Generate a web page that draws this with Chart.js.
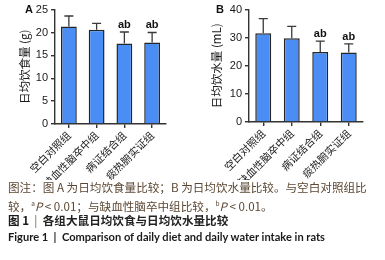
<!DOCTYPE html>
<html><head><meta charset="utf-8">
<script src="https://cdn.jsdelivr.net/npm/chart.js@4/dist/chart.umd.min.js"></script>
<style>
html,body{margin:0;padding:0;background:#fff;width:385px;height:260px;overflow:hidden;position:relative}
canvas{position:absolute;top:0}
.t{position:absolute;left:8px;white-space:nowrap;font-family:"Noto Sans CJK SC",sans-serif;font-size:11.6px;line-height:15px}
.lab{position:absolute;font-family:"Liberation Sans",Arial,sans-serif;font-weight:bold;font-size:11px;color:#111}
</style></head><body>
<canvas id="a" width="190" height="180" style="left:0"></canvas>
<canvas id="b" width="195" height="180" style="left:190px"></canvas>
<div class="lab" style="left:25px;top:3px">A</div>
<div class="lab" style="left:216px;top:3px">B</div>
<div class="t" style="top:180px;color:#5a4632">图注：图 A 为日均饮食量比较；B 为日均饮水量比较。与空白对照组比</div>
<div class="t" style="top:196px;color:#5a4632">较，<sup style="font-size:6.5px">a</sup><i>P</i> &lt; 0.01；与缺血性脑卒中组比较，<sup style="font-size:6.5px">b</sup><i>P</i> &lt; 0.01。</div>
<div class="t" style="top:213px;color:#1a1a1a;font-weight:bold">图 1 &nbsp;<span style="color:#7a5a3a;font-weight:normal">|</span>&nbsp; <span style="color:#222">各组大鼠日均饮食与日均饮水量比较</span></div>
<div class="t" style="top:229px;color:#1a1a1a;font-family:Lato,sans-serif;font-weight:bold;font-size:11.1px">Figure 1 &nbsp;|&nbsp; Comparison of daily diet and daily water intake in rats</div>
<script>
const categories = ['空白对照组','缺血性脑卒中组','病证结合组','痰热腑实证组'];
const dietMean = [21.3, 20.6, 17.6, 17.8];
const dietErr = [2.3, 1.4, 2.5, 2.2];
const waterMean = [31.6, 29.8, 24.9, 24.7];
const waterErr = [5.2, 4.2, 3.9, 3.1];
const sigLabels = ['', '', 'ab', 'ab'];
const dietTicks = [0, 5, 10, 15, 20, 25];
const waterTicks = [0, 10, 20, 30, 40];

const errPlugin = {
  id: 'errbars',
  afterDatasetsDraw(chart, args, opts) {
    const ctx = chart.ctx;
    const meta = chart.getDatasetMeta(0);
    const ys = chart.scales.y;
    ctx.save();
    ctx.strokeStyle = '#3a3a3a';
    ctx.lineWidth = 1.3;
    meta.data.forEach((bar, i) => {
      const m = opts.means[i], e = opts.errs[i];
      const yt = ys.getPixelForValue(m + e);
      const yb = ys.getPixelForValue(m);
      ctx.beginPath();
      ctx.moveTo(bar.x, yb); ctx.lineTo(bar.x, yt);
      ctx.moveTo(bar.x - 4.5, yt); ctx.lineTo(bar.x + 4.5, yt);
      ctx.stroke();
      if (opts.sig[i]) {
        ctx.fillStyle = '#111';
        ctx.font = 'bold 11px "Liberation Sans", Arial, sans-serif';
        ctx.textAlign = 'center';
        ctx.textBaseline = 'alphabetic';
        ctx.fillText(opts.sig[i], bar.x, yt - 4);
      }
    });
    ctx.restore();
  }
};

function makeChart(id, means, errs, ticks, title, pad, yWidth, xHeight, pct) {
  return new Chart(document.getElementById(id), {
    type: 'bar',
    data: { labels: categories, datasets: [{ data: means, backgroundColor: '#4a8ef5', borderColor: '#262626', borderWidth: 1.5, barPercentage: pct, categoryPercentage: 1 }] },
    plugins: [errPlugin],
    options: {
      responsive: false, animation: false,
      layout: { padding: pad },
      plugins: { legend: { display: false }, tooltip: { enabled: false },
        errbars: { means: means, errs: errs, sig: sigLabels } },
      scales: {
        y: {
          min: ticks[0], max: ticks[ticks.length - 1],
          afterBuildTicks: s => { s.ticks = ticks.map(v => ({ value: v })); },
          afterFit: s => { s.width = yWidth; },
          ticks: { font: { family: '"Liberation Sans", Arial, sans-serif', size: 11 }, color: '#1a1a1a', padding: 3 },
          grid: { drawOnChartArea: false, tickLength: 4, color: '#333', lineWidth: 1.4 },
          border: { color: '#333', width: 1.4 },
          title: { display: true, text: title, color: '#1a1a1a', font: { family: '"Noto Sans CJK SC", sans-serif', size: 11.5 }, padding: 0 }
        },
        x: {
          afterFit: s => { s.height = xHeight; },
          ticks: { minRotation: 45, maxRotation: 45, autoSkip: false, font: { family: '"Noto Sans CJK SC", sans-serif', size: 10.5 }, color: '#1a1a1a', padding: 1 },
          grid: { offset: false, drawOnChartArea: false, tickLength: 4, color: '#333', lineWidth: 1.4 },
          border: { color: '#333', width: 1.4 }
        }
      }
    }
  });
}
makeChart('a', dietMean, dietErr, dietTicks, '日均饮食量 (g)', { left: 18, right: 24, top: 8, bottom: 0 }, 37, 56, 0.57);
makeChart('b', waterMean, waterErr, waterTicks, '日均饮水量 (mL)', { left: 20, right: 22, top: 8, bottom: 0 }, 39, 58, 0.56);
</script>
</body></html>
